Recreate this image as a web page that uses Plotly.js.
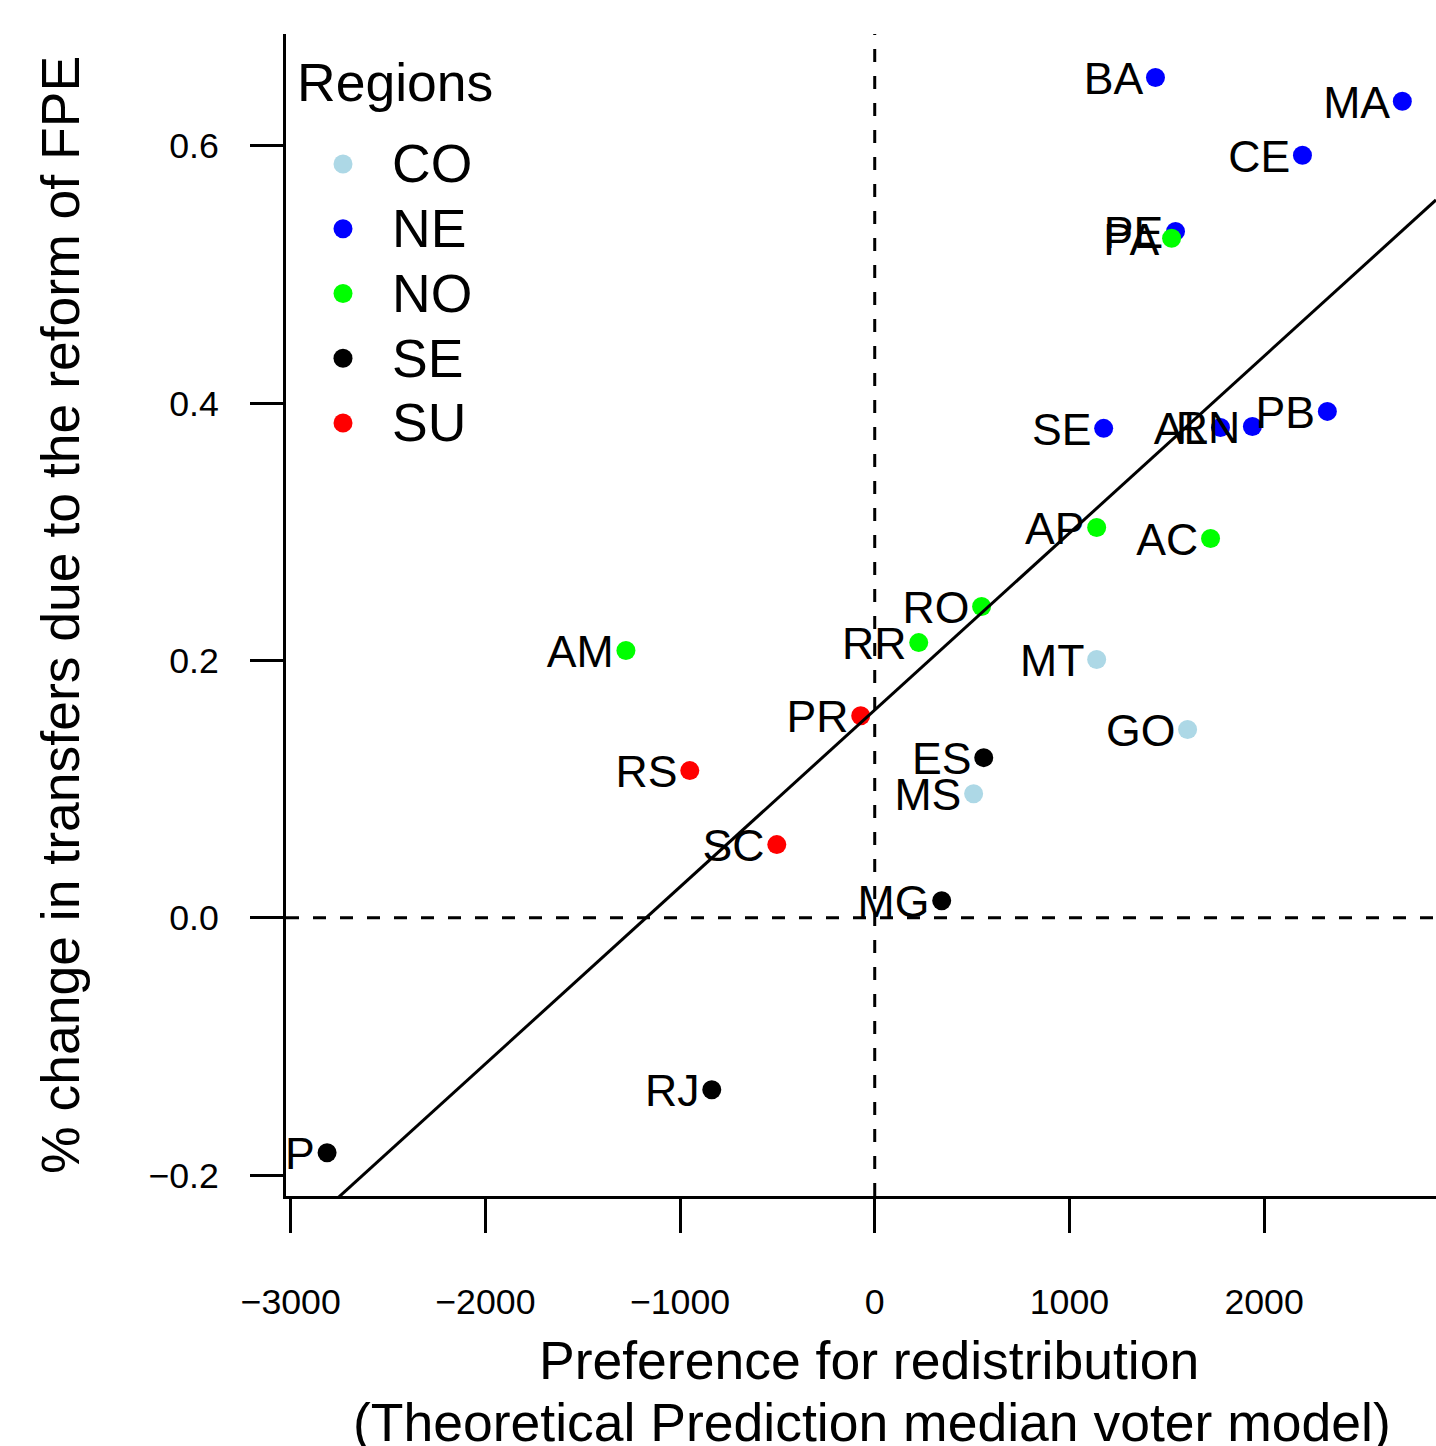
<!DOCTYPE html>
<html><head><meta charset="utf-8">
<script src="https://cdn.plot.ly/plotly-3.0.1.min.js"></script>
<style>html,body{margin:0;padding:0;background:#fff}</style>
</head><body><div id="chart" style="width:1436px;height:1446px"></div>
<script>
// ---- data ----
const regions = ['CO', 'NE', 'NO', 'SE', 'SU'];
const regionColors = ['#ADD8E6', '#0000FF', '#00FF00', '#000000', '#FF0000'];

const states = ['MT', 'GO', 'MS',
  'BA', 'MA', 'CE', 'PE', 'SE', 'AL', 'RN', 'PB',
  'PA', 'AP', 'AC', 'RO', 'RR', 'AM',
  'ES', 'MG', 'RJ', 'SP',
  'PR', 'RS', 'SC'];
const stateRegion = ['CO', 'CO', 'CO',
  'NE', 'NE', 'NE', 'NE', 'NE', 'NE', 'NE', 'NE',
  'NO', 'NO', 'NO', 'NO', 'NO', 'NO',
  'SE', 'SE', 'SE', 'SE',
  'SU', 'SU', 'SU'];
const prefRedistribution = [1140, 1607, 508,
  1442, 2710, 2197, 1545, 1176, 1776, 1940, 2325,
  1525, 1140, 1725, 549, 226, -1278,
  560, 344, -837, -2813,
  -72, -950, -503];
const pctChangeTransfers = [0.2006, 0.1462, 0.0964,
  0.653, 0.6345, 0.5925, 0.5334, 0.3803, 0.381, 0.3818, 0.3935,
  0.528, 0.3033, 0.2947, 0.2418, 0.2138, 0.2076,
  0.1244, 0.0132, -0.1337, -0.1827,
  0.157, 0.1143, 0.0568];

const fitIntercept = 0.1614;
const fitSlope = 0.0001375;

const xTickVals = [-3000, -2000, -1000, 0, 1000, 2000];
const xTickText = ['\u22123000', '\u22122000', '\u22121000', '0', '1000', '2000'];
const yTickVals = [-0.2, 0, 0.2, 0.4, 0.6];
const yTickText = ['\u22120.2', '0.0', '0.2', '0.4', '0.6'];

// ---- chart ----
const FONT = 'Liberation Sans, Arial, Helvetica, sans-serif';
const W = 1436, H = 1446;
const M = {l: 286, r: 0, t: 34, b: 250};
const PW = W - M.l - M.r, PH = H - M.t - M.b;
const px2paperX = function (px) { return (px - M.l) / PW; };
const px2paperY = function (py) { return (H - M.b - py) / PH; };

const xRange = [-3024, 2883];
const yRange = [-0.2163, 0.6868];
const labelDrop = 0.0043; // small downward nudge of label baseline axis

const traces = [];
regions.forEach(function (r, i) {
  const xs = [], ys = [];
  states.forEach(function (s, k) {
    if (stateRegion[k] === r) { xs.push(prefRedistribution[k]); ys.push(pctChangeTransfers[k]); }
  });
  traces.push({
    type: 'scatter', mode: 'markers', name: r, x: xs, y: ys, showlegend: false,
    marker: {color: regionColors[i], size: 19, line: {width: 0}},
    hoverinfo: 'skip'
  });
});
// state labels (drawn on a twin y-axis, nudged a few pixels to centre them on the dots)
traces.push({
  type: 'scatter', mode: 'markers+text', x: prefRedistribution, y: pctChangeTransfers, yaxis: 'y2',
  text: states, textposition: 'middle left', showlegend: false,
  marker: {color: 'rgba(0,0,0,0)', size: 18},
  textfont: {family: FONT, size: 44.6, color: '#000'},
  cliponaxis: true, hoverinfo: 'skip'
});
// fitted line
traces.push({
  type: 'scatter', mode: 'lines', showlegend: false, hoverinfo: 'skip',
  x: xRange, y: xRange.map(function (v) { return fitIntercept + fitSlope * v; }),
  line: {color: '#000', width: 3}
});

const shapes = [
  {type: 'line', xref: 'x', yref: 'y domain', x0: 0, x1: 0, y0: 0, y1: 1,
   line: {color: '#000', width: 3, dash: '13px,14px'}},
  {type: 'line', xref: 'x domain', yref: 'y', x0: 0, x1: 1, y0: 0, y1: 0,
   line: {color: '#000', width: 3, dash: '13px,14px'}}
];
const annotations = [
  {text: 'Preference for redistribution', xref: 'paper', yref: 'paper',
   x: px2paperX(869), y: px2paperY(1360), xanchor: 'center', yanchor: 'middle', showarrow: false,
   font: {family: FONT, size: 53.5, color: '#000'}},
  {text: '(Theoretical Prediction median voter model)', xref: 'paper', yref: 'paper',
   x: px2paperX(872), y: px2paperY(1422), xanchor: 'center', yanchor: 'middle', showarrow: false,
   font: {family: FONT, size: 53.5, color: '#000'}},
  {text: '% change in transfers due to the reform of FPE', xref: 'paper', yref: 'paper',
   x: px2paperX(60), y: px2paperY(615), xanchor: 'center', yanchor: 'middle', textangle: -90, showarrow: false,
   font: {family: FONT, size: 53.5, color: '#000'}},
  {text: 'Regions', xref: 'paper', yref: 'paper',
   x: px2paperX(295), y: px2paperY(83), xanchor: 'left', yanchor: 'middle', showarrow: false,
   font: {family: FONT, size: 53.5, color: '#000'}}
];
// legend entries
regions.forEach(function (r, i) {
  const cy = 164 + i * 64.75;
  shapes.push({type: 'circle', xref: 'paper', yref: 'paper', xsizemode: 'pixel', ysizemode: 'pixel',
    xanchor: px2paperX(343), yanchor: px2paperY(cy), x0: -9.5, x1: 9.5, y0: -9.5, y1: 9.5,
    fillcolor: regionColors[i], line: {width: 0}});
  annotations.push({text: r, xref: 'paper', yref: 'paper', x: px2paperX(390), y: px2paperY(cy),
    xanchor: 'left', yanchor: 'middle', showarrow: false,
    font: {family: FONT, size: 53.5, color: '#000'}});
});

const layout = {
  width: W, height: H,
  margin: {l: M.l, r: M.r, t: M.t, b: M.b, pad: 0},
  paper_bgcolor: '#fff', plot_bgcolor: '#fff',
  font: {family: FONT, color: '#000'},
  showlegend: false,
  xaxis: {
    range: xRange, showgrid: false, zeroline: false,
    showline: true, linecolor: '#000', linewidth: 3,
    ticks: 'outside', ticklen: 34, tickwidth: 3, tickcolor: '#000',
    tickmode: 'array', tickvals: xTickVals, ticktext: xTickText,
    tickfont: {family: FONT, size: 35.7, color: '#000'},
    ticklabelstandoff: 38
  },
  yaxis: {
    range: yRange, showgrid: false, zeroline: false,
    showline: true, linecolor: '#000', linewidth: 3,
    ticks: 'outside', ticklen: 33, tickwidth: 3, tickcolor: '#000',
    tickmode: 'array', tickvals: yTickVals, ticktext: yTickText,
    tickfont: {family: FONT, size: 35.7, color: '#000'},
    ticklabelstandoff: 24
  },
  yaxis2: {
    overlaying: 'y', range: [yRange[0] + labelDrop, yRange[1] + labelDrop],
    visible: false, showgrid: false, zeroline: false
  },
  shapes: shapes,
  annotations: annotations
};

Plotly.newPlot('chart', traces, layout, {displayModeBar: false, staticPlot: true});
</script>
</body></html>
